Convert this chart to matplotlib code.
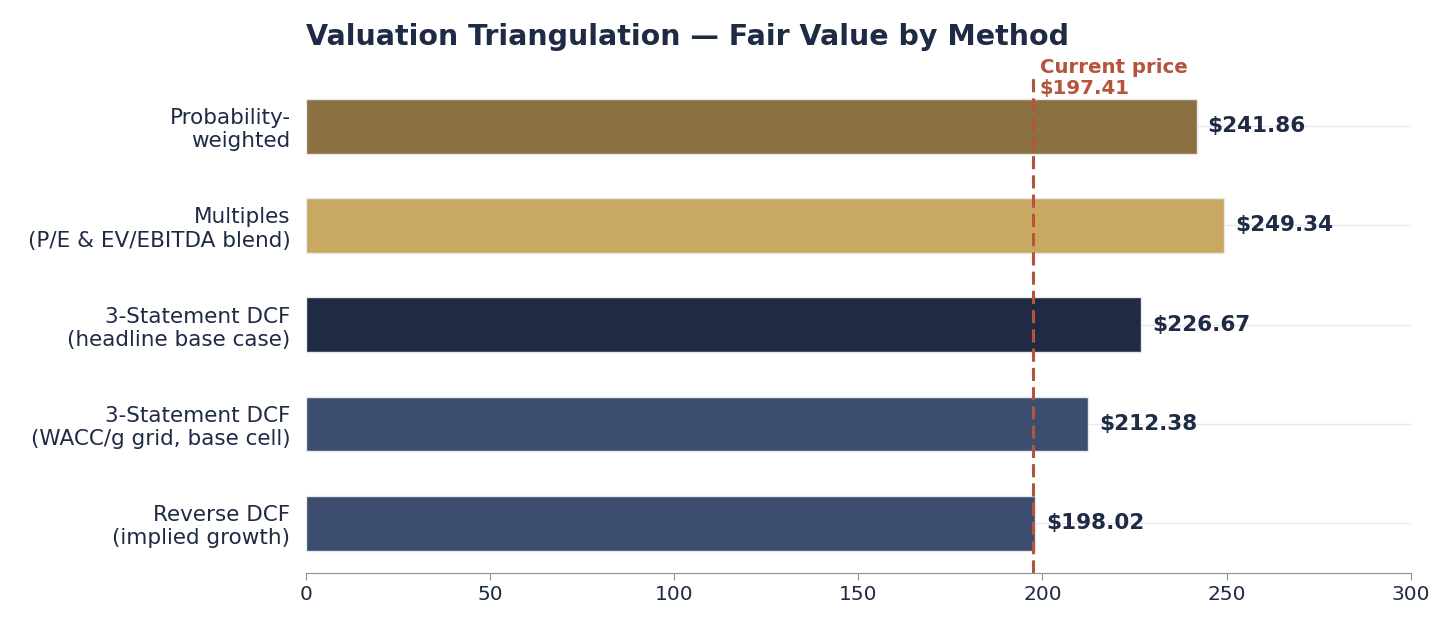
import matplotlib
matplotlib.use("Agg")
import matplotlib.pyplot as plt

methods = ["Reverse DCF\n(implied growth)",
           "3-Statement DCF\n(WACC/g grid, base cell)",
           "3-Statement DCF\n(headline base case)",
           "Multiples\n(P/E & EV/EBITDA blend)",
           "Probability-\nweighted"]
values = [198.02, 212.38, 226.67, 249.34, 241.86]
colors = ["#3d4d70", "#3d4d70", "#1f2a44", "#c9a862", "#8b7041"]
current_price = 197.41
xticks = [0, 50, 100, 150, 200, 250, 300]

navy = "#1f2a44"
fig = plt.figure(figsize=(14.56, 6.33), dpi=100)
ax = fig.add_axes([0.210, 0.095, 0.759, 0.784])

ypos = list(range(len(methods)))
ax.barh(ypos, values, height=0.55, color=colors, edgecolor="#e8e8ee", linewidth=1.0, zorder=3)
for y, v in zip(ypos, values):
    ax.text(v + 3, y, f"${v:.2f}", va="center", ha="left", fontsize=15.5,
            fontweight="bold", color=navy, zorder=4)

ax.axvline(current_price, color="#b5533c", linestyle=(0, (4.3, 2.0)), linewidth=2.2, zorder=5)
ax.text(current_price + 1.8, 4.285, f"Current price\n${current_price:.2f}", color="#b5533c",
        fontsize=14.2, fontweight="bold", va="bottom", ha="left", linespacing=1.12)

ax.set_xlim(0, 300)
ax.set_ylim(-0.5, 4.5)
ax.set_xticks(xticks)
ax.set_yticks(ypos)
ax.set_yticklabels(methods)
ax.tick_params(axis="y", length=0, pad=11, labelsize=15.5, labelcolor=navy)
ax.tick_params(axis="x", labelsize=14.5, labelcolor=navy, color="#8a8f9c", length=5)
ax.grid(axis="y", color="#e6e8ee", linewidth=1.0, zorder=0)
ax.grid(axis="x", visible=False)
for s in ["top", "right", "left"]:
    ax.spines[s].set_visible(False)
ax.spines["bottom"].set_color("#8a8f9c")

fig.text(0.210, 0.942, "Valuation Triangulation — Fair Value by Method", fontsize=20.5,
         fontweight="bold", color=navy, ha="left", va="center")

fig.savefig("out.png", dpi=100, facecolor="white")
